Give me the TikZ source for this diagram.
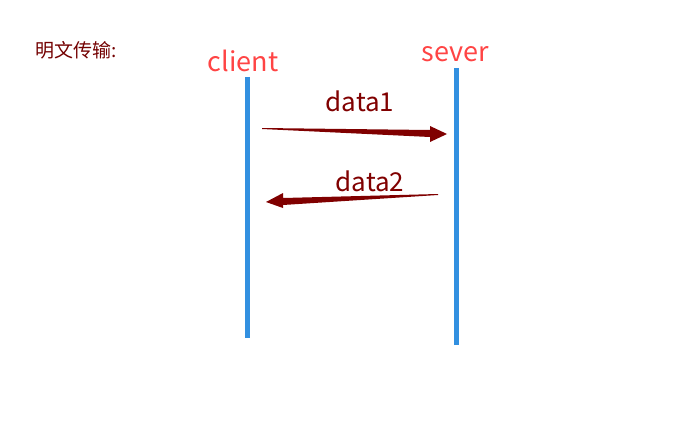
\documentclass[tikz,border=0pt]{standalone}
\usepackage{fontspec}
\setmainfont{Noto Sans CJK SC}
\usetikzlibrary{calc}
\definecolor{lifeblue}{RGB}{50,144,224}
\definecolor{namered}{RGB}{255,68,68}
\definecolor{msgred}{RGB}{128,0,0}
\begin{document}
\begin{tikzpicture}[x=1pt,y=-1pt,
  lifeline/.style={lifeblue, line width=5pt},
  actorname/.style={text=namered, font=\fontsize{27}{30}\selectfont},
  msglabel/.style={text=msgred, font=\fontsize{26}{30}\selectfont},
  msg/.style={fill=msgred, draw=none}]
\useasboundingbox (0,0) rectangle (700,425);
%\draw [black](0,0) rectangle (700,425);

\node[anchor=west, text=msgred!90!black, font=\fontsize{19}{22}\selectfont] (title) at(32,50) {明文传输:};

\node[actorname] (client) at(243,61) {client};
\node[actorname] (sever) at(455,54) {sever};

\coordinate (ctop) at(247,77);
\coordinate (cbot) at(247,338);
\coordinate (stop) at(456,68);
\coordinate (sbot) at(456,345);
\draw[lifeline] (ctop) -- (cbot);
\draw[lifeline] (stop) -- (sbot);

% data1: client -> sever
\coordinate (d1s) at(262,128);
\coordinate (d1e) at(447,134);
\fill[msg] (d1s) -- ($(d1e)+(-17,-4)$) -- ($(d1e)+(-17,-8)$) -- (d1e)
  -- ($(d1e)+(-17,8)$) -- ($(d1e)+(-17,3)$) -- ($(d1s)+(0,1)$) -- cycle;
\node[msglabel] (data1) at(360,101) {data1};

% data2: sever -> client
\coordinate (d2s) at(438,194);
\coordinate (d2e) at(266,202);
\fill[msg] (d2s) -- ($(d2e)+(17,-4)$) -- ($(d2e)+(17,-9)$) -- (d2e)
  -- ($(d2e)+(17,6)$) -- ($(d2e)+(17,3)$) -- ($(d2s)+(0,1)$) -- cycle;
\node[msglabel] (data2) at(370,181) {data2};

\end{tikzpicture}
\end{document}
